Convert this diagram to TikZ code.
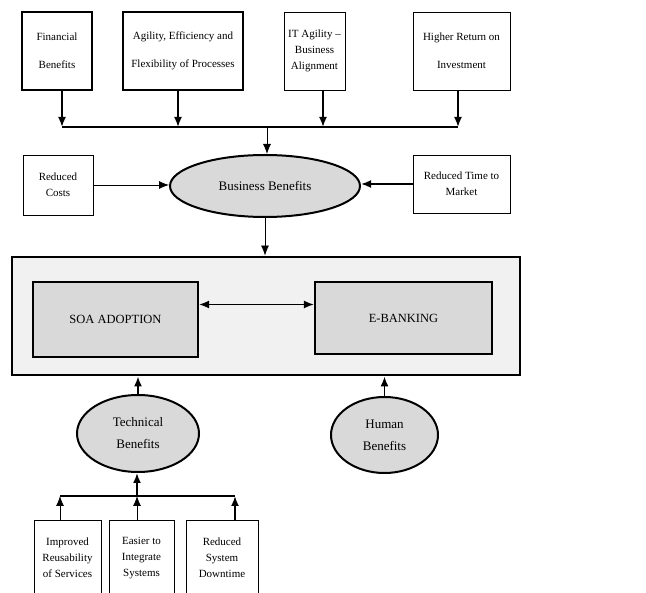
\documentclass[tikz,border=0pt]{standalone}
\usepackage{fontspec}
\setmainfont{Liberation Serif}
\usetikzlibrary{shapes.geometric,arrows.meta}
\definecolor{boxgray}{rgb}{0.85,0.85,0.85}
\definecolor{panelgray}{rgb}{0.945,0.945,0.945}
\tikzset{
    % plain text boxes
    benefit/.style={draw, line width=0.8pt, align=center, inner sep=0pt,
        font=\fontsize{11}{16}\selectfont},
    heavybenefit/.style={benefit, line width=1.8pt},
    % grey ellipses
    group/.style={ellipse, draw, line width=2pt, fill=boxgray, align=center,
        inner sep=0pt, font=\fontsize{13}{22}\selectfont},
    % the two central boxes
    core/.style={draw, line width=2.4pt, fill=boxgray, inner sep=0pt,
        font=\fontsize{12.5}{15}\selectfont},
    tip/.tip={Latex[length=10pt,width=8pt]},
    link/.style={-tip, line width=0.8pt},
    heavylink/.style={-tip, line width=1.8pt}
}

\begin{document}
\begin{tikzpicture}[x=1pt, y=-1pt]
    \useasboundingbox (0,0) rectangle (646,593);

    % Top row of benefits
    \node [heavybenefit, minimum width=70, minimum height=78] (fin) at (57,51)
        {Financial\\[12pt]Benefits};
    \node [heavybenefit, minimum width=120, minimum height=78] (agil) at (183,51)
        {Agility, Efficiency and\\[12pt]Flexibility of Processes};
    \node [benefit, minimum width=61, minimum height=78] (itba) at (314.5,51)
        {IT Agility --\\Business\\Alignment};
    \node [benefit, minimum width=97, minimum height=78] (roi) at (461.5,51)
        {Higher Return on\\[12pt]Investment};

    % where the top arrows meet
    \coordinate (topjoin) at (267,127);

    % Business benefits and its side boxes
    \node [group, minimum width=190, minimum height=62] (bb) at (265,186)
        {Business Benefits};
    \node [benefit, minimum width=70, minimum height=60] (costs) at (58,185)
        {Reduced\\Costs};
    \node [benefit, minimum width=97, minimum height=58] (ttm) at (461.5,184)
        {Reduced Time to\\Market};

    % Central panel
    \node [draw, line width=2.8pt, fill=panelgray, minimum width=508,
        minimum height=118] (panel) at (266,316) {};
    \node [core, minimum width=165, minimum height=75] (soa) at (115.5,319.5)
        {SOA ADOPTION};
    \node [core, minimum width=177, minimum height=72] (ebank) at (403.5,318)
        {E-BANKING};

    % Lower ellipses
    \node [group, minimum width=122, minimum height=77] (tech) at (138,433.5)
        {Technical\\Benefits};
    \node [group, minimum width=107, minimum height=76] (human) at (384.5,435)
        {Human\\Benefits};

    % Bottom row of benefits
    \node [benefit, minimum width=67, minimum height=76] (reuse) at (67.5,558)
        {Improved\\Reusability\\of Services};
    \node [benefit, minimum width=65, minimum height=76] (integ) at (141.5,558)
        {Easier to\\Integrate\\Systems};
    \node [benefit, minimum width=72, minimum height=76] (down) at (222,558)
        {Reduced\\System\\Downtime};

    % where the bottom arrows meet
    \coordinate (botjoin) at (137,496);

    % Top arrows into the join line
    \draw [heavylink] ([xshift=5pt]fin.south) -- ([xshift=5pt]fin.south |- topjoin);
    \draw [heavylink] ([xshift=-5pt]agil.south) -- ([xshift=-5pt]agil.south |- topjoin);
    \draw [heavylink] ([xshift=8.5pt]itba.south) -- ([xshift=8.5pt]itba.south |- topjoin);
    \draw [heavylink] ([xshift=-3.5pt]roi.south) -- ([xshift=-3.5pt]roi.south |- topjoin);
    \draw [line width=1.8pt] ([xshift=5pt]fin.south |- topjoin)
        -- ([xshift=-3.5pt]roi.south |- topjoin);
    \draw [link] (topjoin) -- (topjoin |- bb.north);

    % Side arrows into business benefits
    \draw [link] (costs.east) -- (costs.east -| bb.west);
    \draw [heavylink] (ttm.west) -- (ttm.west -| bb.east);

    % Business benefits down to the panel
    \draw [link] (bb.south) -- (bb.south |- panel.north);

    % SOA <-> e-banking
    \draw [tip-tip, line width=1.2pt] ([yshift=15pt]soa.east)
        -- ([yshift=15pt]soa.east -| ebank.west);

    % Ellipses up to the panel
    \draw [heavylink] (tech.north) -- (tech.north |- panel.south);
    \draw [heavylink] (human.north) -- (human.north |- panel.south);

    % Bottom boxes up to the join line
    \draw [link] ([xshift=-7.5pt]reuse.north) -- ([xshift=-7.5pt]reuse.north |- botjoin);
    \draw [link] ([xshift=-4.5pt]integ.north) -- ([xshift=-4.5pt]integ.north |- botjoin);
    \draw [heavylink] ([xshift=13pt]down.north) -- ([xshift=13pt]down.north |- botjoin);
    \draw [line width=1.8pt] ([xshift=-7.5pt]reuse.north |- botjoin)
        -- ([xshift=13pt]down.north |- botjoin);
    \draw [heavylink] (botjoin) -- (botjoin |- tech.south);
\end{tikzpicture}
\end{document}
